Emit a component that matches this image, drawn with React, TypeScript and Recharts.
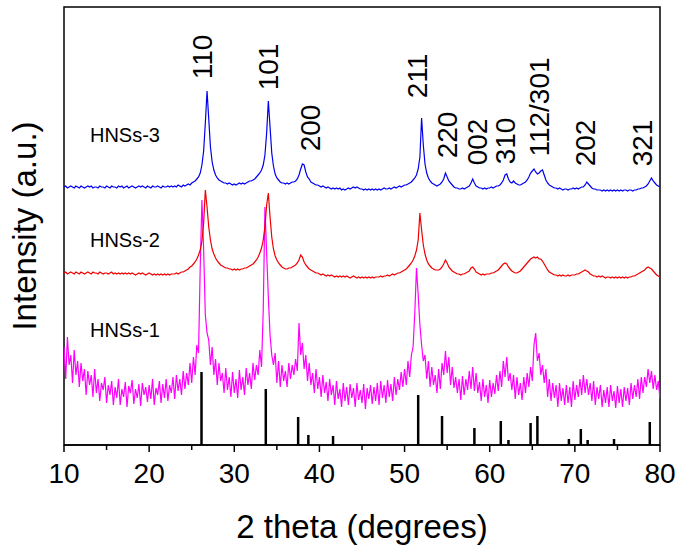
import {
  ComposedChart, Line, XAxis, YAxis, ReferenceArea, ReferenceLine, ReferenceDot,
} from 'recharts'

const FONT = '"Liberation Sans", Arial, sans-serif'

// 2θ scan: 10° to 80° in 0.2° steps
const START_ANGLE = 10
const ANGLE_STEP = 0.2

const hnss3 = [
  258, 259, 257, 258, 259, 258, 257, 259, 258, 257, 259, 258, 257, 258, 259,
  258, 259, 257, 258, 258, 257, 259, 258, 258, 257, 259, 258, 257, 259, 258,
  258, 257, 259, 258, 259, 257, 258, 259, 257, 258, 259, 258, 257, 258, 259,
  258, 259, 258, 257, 259, 258, 257, 259, 258, 258, 259, 258, 257, 259, 258,
  258, 259, 258, 259, 258, 259, 258, 260, 259, 258, 260, 259, 260, 261, 260,
  262, 263, 264, 266, 268, 272, 280, 294, 322, 354, 326, 298, 283, 275, 270,
  267, 265, 264, 263, 262, 262, 261, 262, 261, 260, 261, 260, 261, 262, 261,
  262, 261, 262, 263, 264, 264, 265, 266, 268, 270, 272, 275, 280, 290, 312,
  344, 318, 292, 279, 271, 267, 265, 263, 262, 262, 261, 262, 261, 262, 263,
  263, 264, 266, 270, 276, 281, 280, 273, 268, 266, 263, 262, 261, 260, 260,
  259, 258, 259, 258, 257, 258, 257, 256, 257, 256, 257, 256, 257, 255, 256,
  255, 256, 257, 256, 257, 258, 257, 258, 257, 256, 256, 255, 256, 255, 256,
  255, 256, 255, 256, 255, 256, 255, 256, 257, 256, 256, 257, 256, 257, 258,
  257, 258, 259, 258, 259, 260, 260, 261, 262, 263, 265, 267, 270, 276, 288,
  327, 300, 281, 272, 267, 264, 262, 261, 260, 259, 260, 261, 263, 266, 272,
  268, 264, 262, 260, 258, 257, 257, 256, 256, 257, 256, 257, 258, 259, 262,
  266, 262, 259, 258, 257, 257, 256, 257, 256, 257, 257, 258, 257, 258, 259,
  259, 260, 262, 265, 270, 271, 266, 263, 262, 264, 262, 261, 260, 260, 261,
  262, 263, 265, 268, 272, 274, 276, 273, 271, 272, 274, 275, 270, 265, 262,
  260, 259, 258, 257, 257, 256, 257, 256, 255, 256, 256, 255, 256, 256, 257,
  256, 257, 256, 257, 258, 258, 260, 263, 261, 259, 257, 256, 256, 255, 255,
  255, 254, 255, 254, 255, 254, 255, 254, 255, 254, 255, 254, 255, 254, 255,
  255, 254, 255, 255, 254, 255, 255, 256, 256, 257, 257, 258, 259, 261, 264,
  267, 264, 262, 260, 259, 258,
]

const hnss2 = [
  172, 173, 171, 172, 173, 172, 171, 173, 172, 171, 173, 172, 171, 172, 173,
  172, 171, 173, 172, 172, 171, 173, 172, 171, 172, 172, 171, 172, 173, 171,
  172, 171, 172, 171, 172, 171, 172, 171, 172, 171, 172, 171, 170, 171, 172,
  171, 172, 171, 170, 171, 172, 171, 170, 171, 170, 171, 170, 171, 170, 171,
  170, 171, 170, 171, 171, 171, 172, 171, 172, 173, 173, 174, 175, 176, 178,
  179, 181, 183, 186, 190, 195, 204, 222, 255, 238, 218, 205, 196, 191, 187,
  184, 182, 180, 179, 178, 177, 177, 176, 176, 175, 176, 175, 176, 175, 176,
  176, 177, 177, 178, 179, 180, 181, 183, 185, 188, 192, 197, 205, 218, 240,
  252, 228, 208, 196, 189, 185, 182, 180, 178, 177, 176, 176, 177, 177, 178,
  179, 180, 182, 185, 190, 188, 183, 180, 178, 176, 175, 174, 173, 172, 172,
  171, 170, 171, 170, 169, 170, 169, 170, 169, 168, 169, 168, 169, 168, 169,
  168, 169, 168, 167, 168, 169, 168, 167, 168, 167, 168, 167, 168, 167, 168,
  167, 168, 167, 168, 168, 168, 169, 168, 169, 169, 170, 169, 170, 171, 170,
  171, 172, 172, 173, 174, 175, 176, 178, 180, 182, 185, 189, 195, 205, 232,
  215, 200, 191, 185, 181, 179, 177, 176, 175, 175, 175, 176, 178, 181, 185,
  182, 178, 176, 174, 173, 172, 171, 171, 170, 171, 171, 172, 173, 174, 177,
  178, 176, 173, 172, 171, 170, 171, 170, 171, 171, 171, 172, 172, 173, 174,
  175, 177, 179, 181, 182, 181, 178, 176, 174, 173, 172, 172, 173, 174, 176,
  178, 180, 182, 184, 186, 187, 188, 187, 188, 186, 186, 184, 181, 178, 175,
  173, 172, 171, 170, 170, 169, 170, 169, 170, 169, 169, 170, 169, 170, 170,
  170, 171, 171, 172, 173, 174, 175, 174, 173, 171, 170, 169, 169, 168, 169,
  168, 169, 168, 167, 168, 168, 167, 168, 167, 168, 167, 168, 167, 168, 167,
  168, 167, 168, 168, 169, 169, 170, 171, 172, 173, 174, 175, 177, 178, 177,
  176, 174, 172, 170, 169, 168,
]

const hnss1 = [
  98, 66, 108, 80, 90, 62, 95, 70, 84, 58, 82, 64, 76, 50, 74,
  60, 70, 48, 76, 52, 66, 44, 62, 55, 68, 42, 60, 50, 64, 40,
  58, 47, 66, 40, 56, 48, 63, 38, 59, 52, 65, 41, 56, 47, 61,
  39, 62, 50, 58, 43, 60, 46, 66, 40, 57, 50, 64, 42, 61, 47,
  66, 44, 60, 52, 68, 46, 70, 54, 66, 50, 74, 56, 72, 60, 82,
  62, 88, 70, 100, 92, 178, 245, 196, 130, 112, 105, 80, 98, 70, 86,
  60, 82, 64, 72, 52, 77, 55, 68, 48, 73, 52, 66, 47, 75, 55,
  68, 50, 77, 60, 72, 56, 82, 65, 80, 70, 95, 78, 135, 238, 192,
  148, 110, 90, 80, 92, 62, 84, 58, 80, 64, 74, 58, 82, 66, 80,
  70, 86, 74, 122, 90, 102, 76, 90, 64, 82, 60, 72, 52, 76, 56,
  68, 48, 70, 52, 63, 44, 66, 50, 60, 40, 64, 46, 56, 38, 62,
  44, 58, 40, 61, 47, 57, 38, 62, 45, 55, 42, 61, 36, 57, 46,
  60, 41, 58, 44, 62, 40, 64, 47, 60, 42, 65, 48, 61, 44, 68,
  50, 66, 55, 73, 58, 76, 60, 84, 68, 90, 98, 132, 177, 150, 120,
  100, 84, 90, 66, 84, 58, 78, 60, 70, 52, 76, 56, 82, 70, 94,
  72, 88, 60, 78, 57, 68, 52, 66, 45, 69, 50, 66, 55, 74, 56,
  78, 54, 72, 52, 63, 44, 66, 48, 60, 42, 65, 48, 62, 51, 70,
  54, 74, 58, 84, 68, 88, 64, 72, 55, 70, 46, 68, 50, 62, 45,
  68, 52, 72, 58, 78, 64, 100, 112, 84, 92, 70, 80, 62, 76, 48,
  66, 44, 62, 47, 60, 38, 62, 44, 57, 40, 60, 42, 58, 38, 64,
  45, 60, 48, 66, 50, 70, 52, 66, 50, 62, 44, 64, 40, 58, 46,
  60, 38, 55, 42, 58, 38, 60, 44, 54, 37, 59, 42, 56, 38, 58,
  44, 57, 40, 62, 46, 60, 48, 66, 46, 68, 52, 68, 58, 76, 62,
  74, 56, 70, 55, 64, 46,
]

// reference pattern (standard card) sticks
const stickAngles = [26.15, 33.7, 37.5, 38.7, 41.6, 51.6, 54.4, 58.2, 61.3, 62.2, 64.8, 65.6, 69.3, 70.7, 71.5, 74.6, 78.8]
const stickHeights = [73, 56, 28, 10, 9, 50, 29, 17, 24, 5, 22, 29, 6, 16, 5, 6, 23]

const hklNames = ['110', '101', '200', '211', '220', '002', '310', '112/301', '202', '321']
const hklAngles = [26.3, 34.0, 39.0, 51.5, 55.0, 58.6, 61.9, 65.8, 71.3, 77.9]
const hklLevels = [388, 378, 317, 369, 310, 303, 304, 338, 302, 302]

const sampleNames = ['HNSs-3', 'HNSs-2', 'HNSs-1']
const sampleLevels = [310, 205, 115]
const sampleAngle = 13.05

const xTicks = [10, 15, 20, 25, 30, 35, 40, 45, 50, 55, 60, 65, 70, 75, 80]

const rows = hnss3.map((v, i) => ({
  angle: +(START_ANGLE + i * ANGLE_STEP).toFixed(1),
  s3: v,
  s2: hnss2[i],
  s1: hnss1[i],
}))

function AngleTick({ x, y, payload }: any) {
  const major = payload.value % 10 === 0
  return (
    <g>
      <line x1={x} y1={y} x2={x} y2={y + (major ? 7 : 5)} stroke="#000" strokeWidth={1.5} />
      {major && (
        <text x={x} y={y + 38} textAnchor="middle" fontSize={28} fontFamily={FONT} fill="#000">
          {payload.value}
        </text>
      )}
    </g>
  )
}

function YTitle({ viewBox }: any) {
  const cx = viewBox.x + 24
  const cy = viewBox.y + viewBox.height / 2
  return (
    <text x={cx} y={cy} transform={`rotate(-90 ${cx} ${cy})`} textAnchor="middle"
      dominantBaseline="central" fontSize={33} fontFamily={FONT} fill="#000">
      Intensity (a.u.)
    </text>
  )
}

function upright(text: string) {
  return (props: any) => {
    const vb = props.viewBox
    const cx = vb.x + (vb.width || 0) / 2
    const cy = vb.y + (vb.height || 0) / 2
    return (
      <text x={cx} y={cy} transform={`rotate(-90 ${cx} ${cy})`} textAnchor="middle"
        dominantBaseline="central" fontSize={28} fontFamily={FONT} fill="#000">
        {text}
      </text>
    )
  }
}

export default function App() {
  return (
    <div style={{ position: 'absolute', left: 0, top: 0, background: '#fff' }}>
      <ComposedChart width={685} height={553} data={rows} margin={{ top: 7, right: 25, bottom: 0, left: 0 }}>
        <XAxis
          type="number"
          dataKey="angle"
          domain={[10, 80]}
          ticks={xTicks}
          interval={0}
          allowDataOverflow
          height={108}
          tickSize={0}
          tickMargin={0}
          tickLine={false}
          axisLine={{ stroke: '#000', strokeWidth: 1.5 }}
          tick={<AngleTick />}
          label={{ value: '2 theta (degrees)', position: 'insideBottom', offset: 15, fontSize: 33, fontFamily: FONT, fill: '#000' }}
        />
        <YAxis
          type="number"
          domain={[0, 438]}
          allowDataOverflow
          width={64}
          tick={false}
          tickLine={false}
          axisLine={false}
          label={{ content: <YTitle /> }}
        />
        {stickAngles.map((a, i) => (
          <ReferenceLine key={'st' + i} segment={[{ x: a, y: 0 }, { x: a, y: stickHeights[i] }]}
            stroke="#000" strokeWidth={2.5} />
        ))}
        <Line dataKey="s1" stroke="#ff00ff" strokeWidth={1.2} dot={false} isAnimationActive={false} />
        <Line dataKey="s2" stroke="#ee0000" strokeWidth={1.2} dot={false} isAnimationActive={false} />
        <Line dataKey="s3" stroke="#0000ee" strokeWidth={1.2} dot={false} isAnimationActive={false} />
        {hklNames.map((n, i) => (
          <ReferenceDot key={n} x={hklAngles[i]} y={hklLevels[i]} r={0} stroke="none" fill="none"
            label={{ content: upright(n) }} />
        ))}
        {sampleNames.map((n, i) => (
          <ReferenceDot key={n} x={sampleAngle} y={sampleLevels[i]} r={0} stroke="none" fill="none"
            label={{ value: n, position: 'right', offset: 0, fontSize: 20, fontFamily: FONT, fill: '#000' }} />
        ))}
        <ReferenceArea x1={10} x2={80} y1={0} y2={438} fill="none" stroke="#000" strokeWidth={1.5} ifOverflow="visible" />
      </ComposedChart>
    </div>
  )
}
